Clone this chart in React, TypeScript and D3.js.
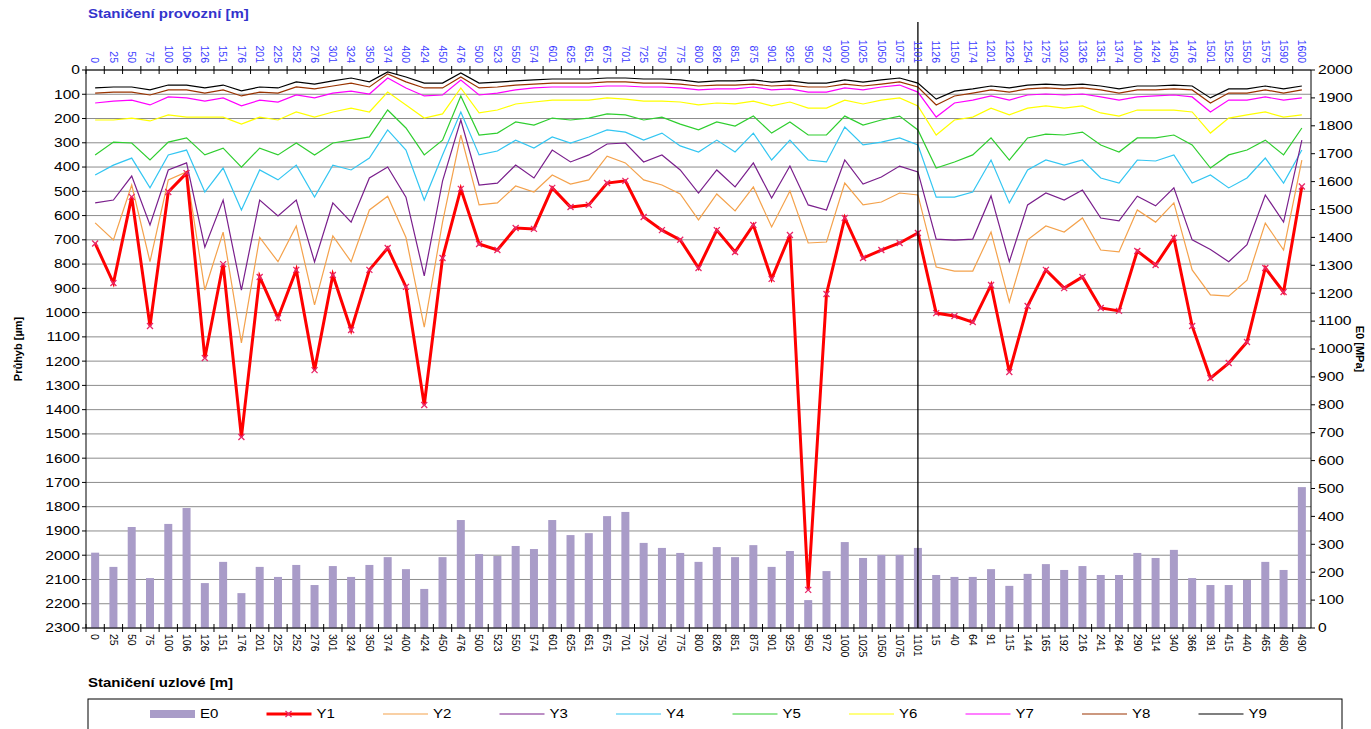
import * as d3 from "d3";

const topLabels = ["0","25","50","75","100","106","126","151","176","201","225","252","276","301","324","350","374","400","424","450","476","500","523","550","574","601","625","651","675","701","725","750","775","800","826","851","875","901","925","950","972","1000","1025","1050","1075","1101","1126","1150","1174","1201","1226","1254","1275","1302","1326","1351","1374","1400","1424","1450","1476","1501","1525","1550","1575","1590","1600"];
const bottomLabels = ["0","25","50","75","100","106","126","151","176","201","225","252","276","301","324","350","374","400","424","450","476","500","523","550","574","601","625","651","675","701","725","750","775","800","826","851","875","901","925","950","972","1000","1025","1050","1075","1101","15","40","64","91","115","144","165","192","216","241","264","290","314","340","366","391","415","440","465","480","490"];

// E0 [MPa] - right axis
const E0 = [270,219,362,179,373,430,161,237,125,219,183,226,154,222,183,226,254,211,140,254,387,265,258,294,283,387,333,340,401,416,305,287,269,237,290,254,297,219,276,100,204,308,251,262,262,287,190,183,183,211,151,194,229,208,222,190,190,269,251,280,179,154,154,172,237,208,505];

// deflections [µm] - left axis
const Y1 = [715,878,523,1055,503,425,1187,800,1513,853,1022,824,1237,845,1072,824,734,894,1381,775,490,717,742,651,655,486,565,556,466,457,606,660,700,816,660,750,639,861,680,2143,923,610,775,742,713,672,1002,1014,1039,886,1245,973,824,899,853,981,993,746,804,692,1055,1270,1208,1121,816,915,480];
const Y2 = [630,700,474,790,453,420,907,668,1125,690,790,643,968,684,790,577,520,690,1060,627,268,556,548,478,503,433,470,453,355,383,453,474,511,618,511,581,482,647,499,713,709,466,556,544,507,515,812,829,829,668,956,700,643,668,610,742,750,577,627,548,824,927,932,866,631,742,371];
const Y3 = [548,536,437,639,412,383,730,536,907,536,602,536,791,548,627,445,400,524,849,458,206,474,466,392,445,330,379,350,305,301,379,350,412,507,412,482,383,528,396,556,577,371,470,441,396,420,697,701,697,519,790,556,507,536,495,610,622,520,560,486,700,740,790,720,515,627,289];
const Y4 = [433,392,363,486,350,330,503,404,577,412,453,392,524,392,412,363,247,330,536,350,173,350,334,289,322,276,301,276,247,256,289,260,313,338,289,338,260,371,289,371,379,235,309,297,280,309,524,524,503,371,548,412,371,392,371,445,466,371,375,350,466,433,486,445,363,466,330];
const Y5 = [350,297,301,371,297,280,350,322,400,322,350,301,350,301,289,276,165,239,350,289,107,268,260,214,227,198,206,198,181,185,206,194,223,247,214,231,190,260,214,268,268,190,227,206,190,247,404,379,350,280,371,280,264,268,256,309,338,280,280,268,309,404,350,330,289,350,239];
const Y6 = [206,206,198,210,185,194,194,194,223,194,206,173,194,173,157,173,91,144,198,181,74,177,165,140,132,124,124,124,115,120,128,128,132,144,136,140,128,148,132,157,157,124,140,124,115,148,268,206,194,157,185,157,148,157,148,177,190,165,165,165,173,260,198,185,173,194,185];
const Y7 = [136,128,124,144,111,115,128,115,148,124,132,103,115,95,87,99,33,74,107,103,41,103,95,82,74,70,70,70,66,66,70,70,74,82,78,78,70,82,78,91,91,74,82,70,62,91,194,136,124,107,124,103,99,103,99,111,124,111,107,103,111,173,124,124,111,124,115];
const Y8 = [95,91,91,103,82,82,95,82,107,91,95,70,78,66,54,70,16,49,74,74,29,74,70,62,58,54,54,54,49,49,54,54,58,66,62,62,58,66,62,70,70,58,66,58,49,70,144,107,95,82,91,78,74,78,74,82,95,82,82,78,82,136,95,95,82,95,82];
const Y9 = [74,70,70,82,62,62,74,62,86,70,74,49,58,45,33,49,8,29,54,54,12,54,50,45,41,37,37,37,33,33,37,37,41,50,45,45,41,50,45,54,54,41,50,41,33,54,120,87,78,66,74,62,58,62,58,66,78,66,66,62,66,115,78,78,66,78,66];

const leftTicks = d3.range(0, 2301, 100);
const rightTicks = d3.range(0, 2001, 100);

const thinSeries = [
  { name: "Y2", values: Y2, color: "#f4a24c" },
  { name: "Y3", values: Y3, color: "#7a1f8c" },
  { name: "Y4", values: Y4, color: "#33c6f2" },
  { name: "Y5", values: Y5, color: "#2fce2f" },
  { name: "Y6", values: Y6, color: "#ffff00" },
  { name: "Y7", values: Y7, color: "#ff00ff" },
  { name: "Y8", values: Y8, color: "#993300" },
  { name: "Y9", values: Y9, color: "#000000" },
];

const font = "'Liberation Sans', Arial, sans-serif";
const barColor = "#a99cc8";
const sx = 1.25; // text in the picture is stretched sideways

export default function App() {
  const left = 86, right = 1311, top = 70, bottom = 628;
  const idx = d3.range(topLabels.length);
  const x = d3.scaleBand<number>().domain(idx).range([left, right]);
  const cx = (i: number) => (x(i) as number) + x.bandwidth() / 2;
  const yL = d3.scaleLinear().domain([0, 2300]).range([top, bottom]);
  const yR = d3.scaleLinear().domain([0, 2000]).range([bottom, top]);
  const line = d3.line<number>().x((_, i) => cx(i)).y((d) => yL(d));
  const barW = 8;
  const sepX = cx(45);

  const legendItems = [
    { name: "E0", color: barColor, type: "bar" },
    { name: "Y1", color: "#ff0000", type: "y1" },
    ...thinSeries.map((s) => ({ name: s.name, color: s.color, type: "line" })),
  ];

  return (
    <div style={{ position: "fixed", left: 0, top: 0 }}>
      <svg width={1371} height={729} style={{ display: "block", background: "#fff" }} fontFamily={font}>
        {/* gridlines */}
        {leftTicks.map((t) => (
          <line key={"g" + t} x1={left} x2={right} y1={yL(t)} y2={yL(t)} stroke="#8c8c8c" strokeWidth={1} />
        ))}

        {/* E0 bars */}
        {E0.map((v, i) => (
          <rect key={"b" + i} x={cx(i) - barW / 2} y={yR(v)} width={barW} height={bottom - yR(v)} fill={barColor} />
        ))}

        {/* thin series */}
        {thinSeries.slice().reverse().map((s) => (
          <path key={s.name} d={line(s.values) || ""} fill="none" stroke={s.color} strokeWidth={1.2} />
        ))}

        {/* Y1 */}
        <path d={line(Y1) || ""} fill="none" stroke="#ff0000" strokeWidth={3} />
        {Y1.map((v, i) => (
          <path key={"m" + i} d={`M${cx(i) - 3},${yL(v) - 3}L${cx(i) + 3},${yL(v) + 3}M${cx(i) - 3},${yL(v) + 3}L${cx(i) + 3},${yL(v) - 3}`} stroke="#e8286a" strokeWidth={1.3} />
        ))}

        {/* axes */}
        <line x1={left} x2={left} y1={top} y2={bottom} stroke="#000" />
        <line x1={right} x2={right} y1={top} y2={bottom} stroke="#000" />
        <line x1={left} x2={right} y1={top} y2={top} stroke="#000" />
        <line x1={left} x2={right} y1={bottom} y2={bottom} stroke="#000" />
        <line x1={sepX} x2={sepX} y1={22} y2={bottom} stroke="#000" strokeWidth={1.3} />

        {idx.map((i) => (
          <g key={"t" + i}>
            <line x1={x(i)} x2={x(i)} y1={top - 4} y2={top + 4} stroke="#000" />
            <line x1={x(i)} x2={x(i)} y1={bottom - 4} y2={bottom + 4} stroke="#000" />
          </g>
        ))}

        {leftTicks.map((t) => (
          <g key={"lt" + t}>
            <line x1={left - 4} x2={left} y1={yL(t)} y2={yL(t)} stroke="#000" />
            <text transform={`translate(${left - 6},${yL(t)}) scale(${sx},1)`} dy="0.35em" textAnchor="end" fontSize={12.5}>{t}</text>
          </g>
        ))}
        {rightTicks.map((t) => (
          <g key={"rt" + t}>
            <line x1={right} x2={right + 4} y1={yR(t)} y2={yR(t)} stroke="#000" />
            <text transform={`translate(${right + 7},${yR(t)}) scale(${sx},1)`} dy="0.35em" textAnchor="start" fontSize={12.5}>{t}</text>
          </g>
        ))}

        {/* category labels */}
        {topLabels.map((l, i) => (
          <text key={"tl" + i} transform={`translate(${cx(i)},63) rotate(90)`} textAnchor="end" dy="0.35em" fontSize={10.5} fill="#3b3bff">{l}</text>
        ))}
        {bottomLabels.map((l, i) => (
          <text key={"bl" + i} transform={`translate(${cx(i)},634) rotate(90)`} textAnchor="start" dy="0.35em" fontSize={10.5} fill="#000">{l}</text>
        ))}

        {/* titles */}
        <text transform={`translate(88,18) scale(${sx},1)`} fontSize={12} fontWeight="bold" fill="#3333cc">Staničení provozní [m]</text>
        <text transform={`translate(88,687) scale(${sx},1)`} fontSize={12} fontWeight="bold" fill="#000">Staničení uzlové [m]</text>
        <text transform={`translate(22,349) rotate(-90)`} textAnchor="middle" fontSize={11} fontWeight="bold">Průhyb [µm]</text>
        <text transform={`translate(1356,349) rotate(90)`} textAnchor="middle" fontSize={11} fontWeight="bold">E0 [MPa]</text>

        {/* legend */}
        <rect x={88} y={699} width={1254} height={45} fill="#fff" stroke="#000" />
        {legendItems.map((it, k) => {
          const lx = 150 + k * 116.5;
          const ly = 714;
          return (
            <g key={"lg" + it.name}>
              {it.type === "bar" && <rect x={lx} y={ly - 4} width={45} height={8} fill={it.color} />}
              {it.type === "y1" && (
                <g>
                  <line x1={lx} x2={lx + 45} y1={ly} y2={ly} stroke={it.color} strokeWidth={3} />
                  <path d={`M${lx + 19},${ly - 3}L${lx + 25},${ly + 3}M${lx + 19},${ly + 3}L${lx + 25},${ly - 3}`} stroke="#e8286a" strokeWidth={1.3} />
                </g>
              )}
              {it.type === "line" && <line x1={lx} x2={lx + 45} y1={ly} y2={ly} stroke={it.color} strokeWidth={1.2} />}
              <text transform={`translate(${lx + 50},${ly}) scale(${sx},1)`} dy="0.35em" fontSize={12}>{it.name}</text>
            </g>
          );
        })}
      </svg>
    </div>
  );
}
